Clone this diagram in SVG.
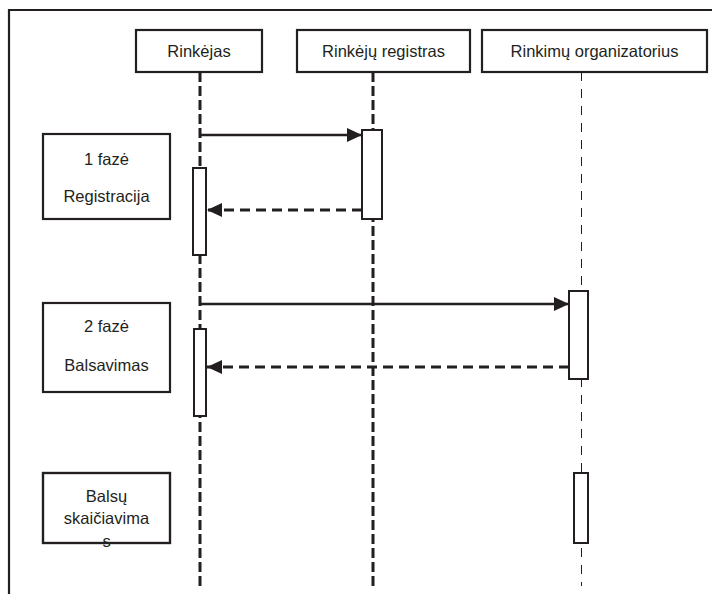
<svg xmlns="http://www.w3.org/2000/svg" width="712" height="594" viewBox="0 0 712 594">
<style>
  .box{fill:#fff;stroke:#231f20;stroke-width:2.2}
  .act{fill:#fff;stroke:#231f20;stroke-width:2}
  .t{font-family:"Liberation Sans",Arial,sans-serif;font-size:16.5px;fill:#231f20;text-anchor:middle}
  .life{stroke:#231f20;stroke-width:3;stroke-dasharray:10 4;fill:none}
  .lifeThin{stroke:#231f20;stroke-width:1;stroke-dasharray:9 8;fill:none}
  .msg{stroke:#231f20;stroke-width:2.5;fill:none}
  .ret{stroke:#231f20;stroke-width:3;stroke-dasharray:10 6;fill:none}
</style>
<defs>
  <marker id="ah" markerUnits="userSpaceOnUse" markerWidth="16" markerHeight="14" refX="15" refY="7" orient="auto">
    <path d="M0,0 L15,7 L0,14 Z" fill="#231f20"/>
  </marker>
</defs>
<rect width="712" height="594" fill="#fff"/>
<path d="M9,594 V10 H712" fill="none" stroke="#231f20" stroke-width="2.2"/>

<g id="lifelines">
  <line class="life" x1="200" y1="72" x2="200" y2="586"/>
  <line class="life" x1="373" y1="72" x2="373" y2="586"/>
  <line class="lifeThin" x1="581.5" y1="72" x2="581.5" y2="586"/>
</g>

<g id="rinkejas"><rect class="box" x="136" y="30" width="126" height="42"/><text class="t" x="199" y="57">Rinkėjas</text></g>
<g id="registras"><rect class="box" x="297" y="30" width="173" height="42"/><text class="t" x="383.5" y="57">Rinkėjų registras</text></g>
<g id="organizatorius"><rect class="box" x="482" y="30" width="225" height="42"/><text class="t" x="594.5" y="57">Rinkimų organizatorius</text></g>

<g id="faze1"><rect class="box" x="43" y="134" width="127" height="85"/><text class="t" x="106.5" y="165">1 fazė</text><text class="t" x="106.5" y="202">Registracija</text></g>
<g id="faze2"><rect class="box" x="43" y="303" width="127" height="89"/><text class="t" x="106.5" y="332">2 fazė</text><text class="t" x="106.5" y="371">Balsavimas</text></g>
<g id="faze3"><rect class="box" x="43" y="473" width="127" height="70"/><text class="t" x="106.5" y="502">Balsų</text><text class="t" x="106.5" y="524">skaičiavima</text><text class="t" x="106.5" y="547">s</text><rect x="43" y="473" width="127" height="70" fill="none" stroke="#231f20" stroke-width="2.2"/></g>

<g id="activations">
  <rect class="act" x="193" y="168" width="13" height="87"/>
  <rect class="act" x="362" y="130" width="20" height="89"/>
  <rect class="act" x="569" y="291" width="19" height="88"/>
  <rect class="act" x="194" y="329" width="12" height="87"/>
  <rect class="act" x="574" y="473" width="14" height="70"/>
</g>

<g id="connectors">
  <line class="msg" x1="200" y1="135" x2="362" y2="135" marker-end="url(#ah)"/>
  <line class="ret" x1="362" y1="210" x2="207" y2="210" marker-end="url(#ah)"/>
  <line class="msg" x1="200" y1="304" x2="569" y2="304" marker-end="url(#ah)"/>
  <line class="ret" x1="569" y1="367" x2="207" y2="367" marker-end="url(#ah)"/>
</g>
</svg>
